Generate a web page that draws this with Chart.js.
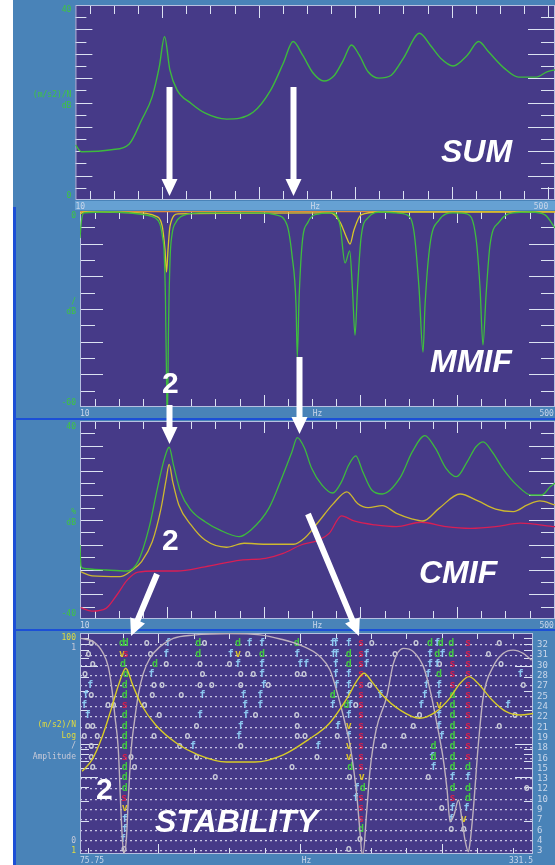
<!DOCTYPE html>
<html>
<head>
<meta charset="utf-8">
<script src="https://cdn.jsdelivr.net/npm/chart.js@4.4.1/dist/chart.umd.min.js"></script>
<style>
  html, body { margin: 0; padding: 0; background: #ffffff; }
  #page { position: relative; width: 555px; height: 865px; overflow: hidden; background: #ffffff; }
  .bg { position: absolute; background: #4983b8; }
  .rule { position: absolute; background: #1c4fd6; }
  .strip { position: absolute; background: #66a1d3; }
  canvas { position: absolute; }
  svg { position: absolute; left: 0; top: 0; }
  .tag { position: absolute; color: #ffffff; font: italic bold 32px "Liberation Sans", Arial, sans-serif; line-height: 1; white-space: nowrap; }
  .num { position: absolute; color: #ffffff; font: bold 30px "Liberation Sans", Arial, sans-serif; line-height: 1; }
</style>
</head>
<body>
<div id="page">
  <div class="bg" style="left:13px;top:0;width:542px;height:865px"></div>
  <div class="strip" style="left:75px;top:201px;width:480px;height:9px"></div>
  <div class="rule" style="left:13px;top:207px;width:3px;height:658px"></div>
  <div class="rule" style="left:13px;top:418px;width:542px;height:2px"></div>
  <div class="rule" style="left:13px;top:629px;width:542px;height:2px"></div>

  <canvas id="sum-chart" width="542" height="212" style="left:13px;top:0px"></canvas>
  <canvas id="mmif-chart" width="539" height="212" style="left:16px;top:207px"></canvas>
  <canvas id="cmif-chart" width="539" height="212" style="left:16px;top:417px"></canvas>
  <canvas id="stab-chart" width="539" height="236" style="left:16px;top:629px"></canvas>

  <svg id="arrows" width="555" height="865"></svg>

  <div class="tag" style="left:441px;top:135px">SUM</div>
  <div class="tag" style="left:430px;top:345px">MMIF</div>
  <div class="tag" style="left:419px;top:556px">CMIF</div>
  <div class="tag" style="left:155px;top:805px">STABILITY</div>
  <div class="num" style="left:162px;top:368px">2</div>
  <div class="num" style="left:162px;top:525px">2</div>
  <div class="num" style="left:96px;top:774px">2</div>
</div>
<script>
// ---- data: [Hz, value] ----
const FREQ_LABELS = ["10", "Hz", "500"];
const STAB_FREQ_LABELS = ["75.75", "Hz", "331.5"];
const ORDERS = [32, 31, 30, 28, 27, 25, 24, 22, 21, 19, 18, 16, 15, 13, 12, 10, 9, 7, 6, 4, 3];

const SUM_CURVE = [
  [10, 11.3], [16.2, 9.9], [47.4, 10.3], [65.8, 11.5], [78.6, 16.4], [89.6, 21.2], [96.9, 27.3], [102.4, 33.5],
  [107.9, 26.7], [115.3, 22.6], [130, 19.8], [144.6, 17.8], [166.6, 16.6], [194.1, 18.0], [212.5, 22.6],
  [225.3, 28.0], [235.6, 32.5], [245.5, 29.7], [256.5, 26.0], [267.5, 24.4], [278.5, 25.6], [287.7, 28.7],
  [296.1, 31.8], [304.2, 29.7], [313.3, 26.3], [324.4, 25.0], [337.3, 25.6], [350.0, 29.1], [366.6, 34.2],
  [377.6, 31.8], [388.5, 29.1], [401.4, 27.5], [416.1, 29.7], [427.8, 32.5], [438.1, 30.4], [454.6, 27.0],
  [469.3, 25.2], [487.6, 25.2], [498.6, 26.3], [507, 26.7],
];

const MMIF_GREEN = [
  [10, -8.3], [11.6, -2.8], [14.1, -0.6], [41, -0.3], [77.2, -1.2], [87.6, -2.1], [92.7, -4.0], [95.8, -8.9],
  [96.9, -11.9], [98.4, -27.2], [99.8, -57.9], [100.5, -62.4], [101.5, -36.4], [103.1, -15.0], [105.1, -7.3],
  [109.3, -3.4], [118.6, -1.2], [134.1, -0.6], [196.1, -0.6], [212.7, -1.2], [224.1, -4.3], [229.2, -13.5],
  [233.4, -28.8], [234.7, -44.7], [236.5, -27.2], [239.6, -10.4], [245.8, -3.4], [257.2, -0.9], [271.6, -0.6],
  [278.9, -4.3], [284.1, -15.9], [288.9, -12.2], [291.8, -24.2], [294.4, -38.0], [297.0, -23.6], [300.6, -8.3],
  [307.8, -2.1], [322.3, -0.3], [336.8, -0.6], [348.2, -1.2], [355.4, -6.4], [360.6, -23.6], [364.7, -43.2],
  [366.8, -28.8], [371.9, -10.4], [381.3, -2.8], [395.7, -0.6], [410.2, -0.9], [419.5, -8.3], [423.7, -23.6],
  [426.7, -41.0], [429.9, -25.7], [434.0, -10.4], [443.3, -3.4], [457.8, -0.6], [476.4, -0.3], [490.9, -1.2],
  [501.2, -5.2],
];
const MMIF_YELLOW = [
  [10, -0.9], [14.1, -0.3], [72, -0.6], [87.6, -1.5], [94.8, -4.3], [97.9, -11.9], [99.5, -18.7], [101, -11.9],
  [103.1, -4.6], [111.3, -0.9], [268.5, -0.6], [278.9, -3.4], [285.1, -7.7], [289.2, -10.1], [293.3, -5.8],
  [300.6, -1.2], [320.2, -0.3], [501.2, -0.3],
];
const MMIF_ORANGE = [[10, -0.15], [501.2, -0.15]];
const MMIF_RED = [[10, 0], [501.2, 0]];

const CMIF_GREEN = [
  [10, -10.1], [11, -18.6], [13.1, -19.5], [36.9, -20.2], [58.6, -20.6], [70, -16.8], [81.4, -3.2], [90.1, 12.9],
  [97.5, 25.1], [102.2, 29.4], [106.7, 22.2], [113.9, 11.4], [124.8, 4.0], [139.3, -0.7], [154.3, -4.0],
  [174.4, -6.7], [186.8, -4.0], [205.4, 4.8], [219.9, 18.2], [229.2, 27.6], [234.7, 33.3], [242.1, 29.1],
  [249.4, 21.0], [260.3, 14.1], [271.3, 10.9], [280.5, 15.5], [287.9, 22.2], [295.2, 25.9], [302.4, 19.5],
  [311.7, 12.1], [322.6, 10.5], [340.9, 17.0], [353.7, 27.6], [366.6, 34.1], [377.5, 29.0], [388.5, 20.9],
  [399.4, 17.5], [410.5, 23.6], [419.5, 29.6], [427.0, 31.6], [436.1, 27.6], [447.1, 20.9], [461.7, 14.1],
  [476.4, 10.1], [487.4, 10.1], [496.5, 13.5], [501.2, 14.9],
];
const CMIF_YELLOW = [
  [10.7, -20.9], [22.4, -22.6], [51.4, -22.9], [62.7, -20.6], [73.7, -16.8], [84.7, -8.8], [93.8, 4.7],
  [99.3, 16.8], [102.2, 22.5], [105.9, 15.5], [112.2, 6.1], [124.8, -2.0], [139.3, -8.1], [161.5, -11.0],
  [179.6, -9.4], [201.8, -9.8], [231.1, -9.8], [242.1, -7.4], [256.7, -0.7], [271.3, 6.3], [286.0, 11.4],
  [297.0, 6.7], [307.9, 5.0], [322.6, 5.8], [337.3, 2.7], [353.7, 0.4], [364.7, -0.4], [381.3, 4.7],
  [403.0, 10.5], [421.5, 7.7], [439.8, 4.4], [458.1, 3.4], [472.7, 6.1], [485.5, 7.7], [501.2, 6.1],
];
const CMIF_RED = [
  [10.7, -35.4], [22.4, -36.8], [36.9, -35.7], [48.1, -30.3], [59.0, -24.2], [70.0, -21.1], [88.4, -20.6],
  [110.3, -20.6], [139.3, -18.9], [176.2, -16.2], [201.8, -15.5], [220.1, -13.5], [238.4, -10.1],
  [256.7, -8.1], [267.7, -5.4], [280.5, 1.7], [293.3, -0.4], [315.3, -2.0], [337.3, -2.7], [362.8, -0.9],
  [388.5, -2.7], [414.1, -3.4], [439.8, -2.7], [465.5, -1.3], [501.2, -2.7],
];

// stability: log amplitude (1..100) and the 0..1 indicator
const STAB_AMPLITUDE = [
  [76.9, 5.6], [82.5, 7.1], [88.6, 11.9], [93.5, 20.8], [97.5, 33.8], [101.6, 48.0], [105.5, 33.8],
  [110.5, 22.3], [118.5, 14.7], [130.5, 10.0], [142.5, 7.9], [158.5, 6.8], [174.5, 6.8], [190.5, 7.9],
  [204.5, 10.8], [216.5, 15.2], [226.5, 25.6], [232.4, 37.6], [236.1, 43.2], [240.5, 36.3], [246.4, 27.5],
  [256.4, 20.1], [267.4, 16.9], [276.4, 19.2], [284.4, 25.6], [290.4, 35.1], [295.4, 40.3], [300.4, 35.1],
  [308.4, 24.8], [316.4, 19.4], [324.4, 18.1], [332.4, 18.8],
];
const STAB_INDICATOR = [
  [75.75, 1.052], [83.3, 1.035], [88.9, 0.974], [91.7, 0.905], [93.6, 0.8], [95.5, 0.644], [97.4, 0.471],
  [98.6, 0.211], [99.7, 0.003], [100.6, -0.065], [101.9, 0.003], [103.0, 0.211], [104.6, 0.471],
  [106.5, 0.62], [108.7, 0.76], [111.5, 0.87], [115.3, 0.95], [120.9, 1.009], [128.4, 1.052], [139.7, 1.069],
  [160.4, 1.077], [177.4, 1.07], [188.7, 1.049], [200.0, 1.017], [211.3, 0.957], [216.9, 0.887],
  [221.6, 0.748], [226.3, 0.575], [228.2, 0.497], [232.0, 0.237], [233.8, 0.046], [234.8, -0.058],
  [235.5, -0.07], [237.6, 0.15], [239.5, 0.367], [242.9, 0.575], [248.9, 0.748], [252.7, 0.922],
  [258.3, 1.0], [264.0, 0.983], [269.6, 0.905], [273.4, 0.783], [277.2, 0.61], [280.9, 0.419],
  [283.0, 0.263], [284.7, 0.098], [286.9, 0.133], [289.4, 0.211], [291.4, 0.107], [293.1, 0.003],
  [295.0, -0.058], [295.8, -0.023], [297.7, 0.15], [300.6, 0.497], [303.4, 0.748], [309.0, 0.905],
  [314.7, 0.974], [320.3, 0.991], [326.0, 0.974], [330.7, 0.939],
];

// poles per model order: [order, [Hz, ...]]
const POLES_S = [
  [32, [234.4, 294.8]], [31, [101.6, 234.4, 294.8]], [30, [234.4, 286.0, 294.8]], [28, [234.4, 286.0, 294.8]],
  [27, [234.4, 286.0, 294.8]], [25, [234.4, 294.8]], [24, [101.0, 234.4, 294.8]], [22, [234.4, 294.8]],
  [21, [234.4, 294.8]], [19, [234.4, 294.8]], [18, [234.4, 294.8]], [16, [101.0, 234.4, 294.8]],
  [15, [234.4]], [10, [100.6, 234.4, 286.0]], [9, [234.4]], [7, [234.4]],
];
const POLES_D = [
  [32, [99.5, 101.6, 142.5, 164.9, 198.1, 273.4, 279.4, 285.4]], [31, [142.5, 178.5, 227.5, 277.4, 285.4]],
  [30, [100.1, 118.1, 227.5]], [28, [101.6, 278.5]], [27, [101.0]], [25, [101.0, 218.4, 286.0]],
  [24, [226.1, 286.0]], [22, [101.0, 286.0]], [21, [101.0, 286.0]], [19, [101.0, 286.0]],
  [18, [101.0, 275.4, 286.0]], [16, [275.4, 286.0]], [15, [101.0, 228.4, 286.0, 294.8]], [13, [101.0]],
  [12, [101.0, 235.4, 286.0, 294.8]], [10, [294.8]], [6, [234.4]],
];
const POLES_V = [
  [31, [99.5, 164.9]], [24, [278.5]], [21, [227.5]], [18, [227.5]], [16, [227.5]], [13, [234.8]],
  [9, [101.0]], [7, [292.4]],
];
const POLES_F = [
  [32, [125.5, 171.5, 178.5, 218.4, 220.1, 227.5, 277.4]],
  [31, [124.5, 160.9, 198.4, 218.9, 220.5, 237.5, 273.4, 280.4]],
  [30, [164.9, 178.5, 200.1, 203.5, 220.1, 237.5, 273.4, 277.4]],
  [28, [116.1, 178.5, 220.1, 227.5, 272.4, 324.4]],
  [27, [81.6, 179.5, 220.5, 227.5, 271.4, 278.5]],
  [25, [79.0, 144.9, 168.1, 177.5, 227.5, 245.2, 270.4, 278.5]],
  [24, [78.1, 168.9, 177.5, 218.4, 228.4, 268.4, 317.4]],
  [22, [80.2, 143.5, 169.5, 227.5, 278.5]], [21, [166.5, 221.4, 278.5]], [19, [165.5, 227.5, 280.0]],
  [18, [139.5, 210.3]], [16, [274.5]], [15, [275.4]], [13, [286.0, 294.8]], [12, [232.0]], [10, [231.5]],
  [9, [286.0, 294.0]], [7, [101.0, 285.4]], [6, [101.0]], [4, [100.1]],
];
const POLES_O = [
  [32, [82.1, 113.5, 146.1, 240.5, 265.5, 312.4]], [31, [80.6, 115.5, 170.5, 253.6, 306.4]],
  [30, [82.9, 124.5, 143.5, 160.1, 278.7, 313.4]], [28, [78.6, 144.9, 166.5, 173.5, 198.4, 202.2]],
  [27, [117.5, 122.1, 143.5, 150.1, 166.5, 182.1, 239.4, 326.0]], [25, [82.1, 116.5, 132.9]],
  [24, [91.6, 94.6, 112.1, 231.4]], [22, [120.5, 174.9, 198.1, 267.4, 321.4]],
  [21, [80.2, 82.9, 141.5, 198.4, 263.9, 312.4]], [19, [78.1, 85.5, 117.5, 136.5, 198.4, 202.8, 221.0, 258.6]],
  [18, [82.1, 132.1, 166.5, 247.5]], [16, [82.1, 104.5, 141.5, 209.5]], [15, [82.9, 106.5, 195.5]],
  [13, [152.1, 227.9, 272.4]], [12, [328.0]], [9, [280.0]], [6, [285.4, 292.4]], [4, [233.8]],
  [3, [100.6, 227.5]],
];

// ---- styling ----
const PLOT_FILL = "#463a88";
const FRAME_COLOR = "#b6c0e0";
const TICK_COLOR = "#dce2f2";
const LABEL_LIGHT = "#c9d6ea";
const LABEL_GREEN = "#3fc63f";
const LABEL_YELLOW = "#e2dc3c";
const LABEL_GRAY = "#c8cad8";
const AXIS_FONT = { family: '"DejaVu Sans Mono", monospace', size: 8, lineHeight: 1.3 };

function points(pairs) {
  return pairs.map(([x, y]) => ({ x, y }));
}

function polePoints(rows) {
  return rows.flatMap(([order, freqs]) => freqs.map((hz) => ({ x: hz, y: ORDERS.indexOf(order) })));
}

function range(from, to, step) {
  const out = [];
  for (let v = from; v <= to + 1e-9; v += step) out.push(Math.round(v * 100) / 100);
  return out;
}

function freqAxis(min, max, labels, height) {
  const values = [Number(labels[0]), (min + max) / 2, Number(labels[2])];
  return {
    type: "linear",
    position: "bottom",
    min,
    max,
    afterBuildTicks(scale) {
      scale.ticks = values.map((value) => ({ value }));
    },
    afterFit(scale) {
      scale.height = height;
      scale.paddingLeft = 0;
      scale.paddingRight = 0;
    },
    ticks: {
      autoSkip: false,
      maxRotation: 0,
      align: "inner",
      padding: 2,
      color: LABEL_LIGHT,
      font: AXIS_FONT,
      callback: (value, index) => labels[index],
    },
    grid: { display: false, drawTicks: false },
    border: { display: false },
  };
}

// y axis whose labels can be nudged inward like the original plots
function valueAxis(spec) {
  const marks = spec.marks;
  return {
    type: spec.type || "linear",
    position: spec.position || "left",
    min: spec.min,
    max: spec.max,
    reverse: !!spec.reverse,
    weight: spec.weight || 0,
    afterBuildTicks(scale) {
      scale.ticks = marks.map((m) => ({ value: m.value }));
      const base = Object.getPrototypeOf(scale).getPixelForTick;
      scale.getPixelForTick = function (index) {
        const m = marks[index];
        return base.call(this, index) + ((m && m.nudge) || 0);
      };
      // a zero-width axis would otherwise clip its own labels away
      if (spec.width === 0) scale._computeLabelArea = () => undefined;
    },
    afterFit(scale) {
      scale.width = spec.width;
      scale.paddingTop = 0;
      scale.paddingBottom = 0;
    },
    ticks: {
      autoSkip: false,
      padding: 4,
      font: spec.font || AXIS_FONT,
      color: (ctx) => (marks[ctx.index] && marks[ctx.index].color) || spec.color,
      callback: (value, index) => marks[index].label,
    },
    grid: spec.grid || { display: false, drawTicks: false },
    border: { display: false, dash: spec.dash || [] },
  };
}

function framePlugin(spec) {
  return {
    id: "plotFrame",
    beforeDraw(chart) {
      const { ctx, chartArea: a } = chart;
      ctx.save();
      ctx.fillStyle = PLOT_FILL;
      ctx.fillRect(a.left, a.top, a.right - a.left, a.bottom - a.top);
      ctx.restore();
    },
    beforeDatasetsDraw(chart) {
      const { ctx, chartArea: a } = chart;
      const xs = chart.scales[spec.x.scale];
      const ys = chart.scales[spec.y.scale];
      ctx.save();
      ctx.strokeStyle = TICK_COLOR;
      ctx.lineWidth = 1;
      ctx.beginPath();
      spec.x.values.forEach((v) => {
        const k = spec.x.isMajor(v) ? 1 : 0;
        const px = Math.round(xs.getPixelForValue(v)) + 0.5;
        ctx.moveTo(px, a.top);
        ctx.lineTo(px, a.top + spec.x.top[k]);
        ctx.moveTo(px, a.bottom);
        ctx.lineTo(px, a.bottom - spec.x.bottom[k]);
      });
      spec.y.values.forEach((v) => {
        const k = spec.y.isMajor(v) ? 1 : 0;
        const py = Math.round(ys.getPixelForValue(v)) + 0.5;
        ctx.moveTo(a.left, py);
        ctx.lineTo(a.left + spec.y.left[k], py);
        ctx.moveTo(a.right, py);
        ctx.lineTo(a.right - spec.y.right[k], py);
      });
      ctx.stroke();
      ctx.strokeStyle = FRAME_COLOR;
      ctx.strokeRect(a.left + 0.5, a.top + 0.5, a.right - a.left - 1, a.bottom - a.top - 1);
      ctx.restore();
    },
  };
}

// draws the stability letters (d, s, v, f, o) at each pole
const poleGlyphs = {
  id: "poleGlyphs",
  beforeDatasetsDraw(chart) {
    const { ctx, chartArea: a } = chart;
    ctx.save();
    ctx.beginPath();
    ctx.rect(a.left, a.top, a.right - a.left, a.bottom - a.top);
    ctx.clip();
    ctx.font = 'bold 10px "DejaVu Sans Mono", monospace';
    ctx.textAlign = "center";
    ctx.textBaseline = "alphabetic";
    chart.data.datasets.forEach((ds, i) => {
      if (!ds.glyph) return;
      ctx.fillStyle = ds.glyphColor;
      chart.getDatasetMeta(i).data.forEach((pt) => ctx.fillText(ds.glyph, pt.x, pt.y + 1.5));
    });
    ctx.restore();
  },
};

function line(data, color, yAxisID, width = 1.3) {
  return { data: points(data), borderColor: color, borderWidth: width, yAxisID, pointRadius: 0, cubicInterpolationMode: "monotone" };
}

function poles(rows, glyph, glyphColor) {
  return { data: polePoints(rows), yAxisID: "yr", showLine: false, pointRadius: 0, glyph, glyphColor };
}

function makeChart(id, { datasets, scales, padding, frame, extra = [] }) {
  return new Chart(document.getElementById(id), {
    type: "line",
    data: { datasets },
    options: {
      responsive: false,
      animation: false,
      events: [],
      layout: { padding },
      plugins: { legend: { display: false }, tooltip: { enabled: false } },
      scales,
    },
    plugins: [framePlugin(frame), ...extra],
  });
}

const topTicks = (minor, major) => ({ top: [minor, major], bottom: [minor, major] });

makeChart("sum-chart", {
  padding: { top: 5, left: 0, right: 0, bottom: 0 },
  datasets: [line(SUM_CURVE, "#3dba3d", "y", 1.4)],
  scales: {
    x: freqAxis(10, 507, FREQ_LABELS, 12),
    y: valueAxis({
      min: 0, max: 40, width: 62.4, color: LABEL_GREEN,
      marks: [
        { value: 0, label: "0", nudge: -4 },
        { value: 20, label: ["(m/s2)/N", "dB"], nudge: -2 },
        { value: 40, label: "40", nudge: 5 },
      ],
    }),
  },
  frame: {
    x: { scale: "x", values: range(25, 500, 25), isMajor: (v) => v % 100 === 0, ...topTicks(9, 13) },
    y: { scale: "y", values: range(2.5, 37.5, 2.5), isMajor: (v) => v % 5 === 0, left: [11, 17], right: [14, 27] },
  },
});

makeChart("mmif-chart", {
  padding: { top: 4, left: 0, right: 0, bottom: 0 },
  datasets: [
    line(MMIF_GREEN, "#3fbd3f", "y"),
    line(MMIF_YELLOW, "#d8c82a", "y"),
    line(MMIF_ORANGE, "#e08a3a", "y"),
    line(MMIF_RED, "#dc2458", "y"),
  ],
  scales: {
    x: freqAxis(10, 501.2, FREQ_LABELS, 12),
    y: valueAxis({
      min: -60, max: 0, width: 64, color: LABEL_GREEN,
      marks: [
        { value: -60, label: "-60", nudge: -4 },
        { value: -30, label: ["/", "dB"], nudge: -2 },
        { value: 0, label: "0", nudge: 5 },
      ],
    }),
  },
  frame: {
    x: { scale: "x", values: range(25, 500, 25), isMajor: (v) => v % 100 === 0, ...topTicks(8, 12) },
    y: { scale: "y", values: range(-55, -5, 5), isMajor: (v) => v % 10 === 0, left: [15, 23], right: [14, 26] },
  },
});

makeChart("cmif-chart", {
  padding: { top: 4, left: 0, right: 0, bottom: 0 },
  datasets: [
    line(CMIF_GREEN, "#3dba3d", "y"),
    line(CMIF_YELLOW, "#cdb830", "y"),
    line(CMIF_RED, "#d81f55", "y"),
  ],
  scales: {
    x: freqAxis(10, 501.2, FREQ_LABELS, 10),
    y: valueAxis({
      min: -40, max: 40, width: 64, color: LABEL_GREEN,
      marks: [
        { value: -40, label: "-40", nudge: -5 },
        { value: 0, label: ["%", "dB"], nudge: -2.5 },
        { value: 40, label: "40", nudge: 6 },
      ],
    }),
  },
  frame: {
    x: { scale: "x", values: range(25, 500, 25), isMajor: (v) => v % 100 === 0, ...topTicks(8, 12) },
    y: { scale: "y", values: range(-35, 35, 5), isMajor: (v) => v % 10 === 0, left: [15, 23], right: [14, 26] },
  },
});

makeChart("stab-chart", {
  padding: { top: 4, left: 0, right: 0, bottom: 0 },
  datasets: [
    line(STAB_AMPLITUDE, "#d8cc28", "yl", 1.4),
    line(STAB_INDICATOR, "#bdb1bd", "yg", 1.4),
    poles(POLES_O, "o", "#c8cad8"),
    poles(POLES_F, "f", "#8cc8f0"),
    poles(POLES_D, "d", "#42c842"),
    poles(POLES_V, "v", "#dcc62a"),
    poles(POLES_S, "s", "#d0204e"),
  ],
  scales: {
    x: freqAxis(75.75, 331.5, STAB_FREQ_LABELS, 11),
    // inner axis (lower weight) with no width: its labels share the space of the indicator labels
    yl: valueAxis({
      type: "logarithmic", min: 1, max: 100, width: 0, weight: 0, color: LABEL_YELLOW,
      marks: [
        { value: 1, label: "1", nudge: -3 },
        { value: 10, label: ["(m/s2)/N", "Log"], nudge: -13 },
        { value: 100, label: "100", nudge: 5 },
      ],
    }),
    yg: valueAxis({
      min: -0.07, max: 1.08, width: 64, weight: 1, color: LABEL_GRAY,
      marks: [
        { value: 0, label: "0" },
        { value: 0.5, label: ["/", "Amplitude"], nudge: 7 },
        { value: 1, label: "1" },
      ],
    }),
    yr: valueAxis({
      position: "right", min: -1.15, max: 20.3, reverse: true, width: 22, color: LABEL_LIGHT,
      font: { family: '"DejaVu Sans Mono", monospace', size: 9 },
      marks: ORDERS.map((order, i) => ({ value: i, label: String(order) })),
      grid: { display: true, drawTicks: false, color: "rgba(214,214,238,0.9)", lineWidth: 1.3 },
      dash: [2, 3],
    }),
  },
  frame: {
    x: { scale: "x", values: range(80, 320, 20), isMajor: (v) => v % 80 === 40, ...topTicks(6, 10) },
    y: {
      scale: "yl", values: [2, 3, 4, 5, 6, 7, 8, 9, 10, 20, 30, 40, 50, 60, 70, 80, 90],
      isMajor: (v) => v === 10 || v === 5 || v === 50, left: [9, 18], right: [9, 18],
    },
  },
  extra: [poleGlyphs],
});

// ---- white annotation arrows ----
(function drawArrows() {
  const svg = document.getElementById("arrows");
  const arrows = [
    [169.5, 87, 169.5, 196], [293.5, 87, 293.5, 196], [299.5, 357, 299.5, 434],
    [169.5, 405, 169.5, 444], [157, 574, 131, 636], [308, 514, 359, 636],
  ];
  arrows.forEach(([x1, y1, x2, y2]) => {
    const len = Math.hypot(x2 - x1, y2 - y1);
    const ux = (x2 - x1) / len;
    const uy = (y2 - y1) / len;
    const nx = -uy;
    const ny = ux;
    const bx = x2 - ux * 17;
    const by = y2 - uy * 17;
    const pts = [
      [x1 + nx * 3, y1 + ny * 3], [bx + nx * 3, by + ny * 3], [bx + nx * 8, by + ny * 8], [x2, y2],
      [bx - nx * 8, by - ny * 8], [bx - nx * 3, by - ny * 3], [x1 - nx * 3, y1 - ny * 3],
    ];
    const poly = document.createElementNS("http://www.w3.org/2000/svg", "polygon");
    poly.setAttribute("points", pts.map((p) => p[0].toFixed(1) + "," + p[1].toFixed(1)).join(" "));
    poly.setAttribute("fill", "#ffffff");
    svg.appendChild(poly);
  });
})();
</script>
</body>
</html>
